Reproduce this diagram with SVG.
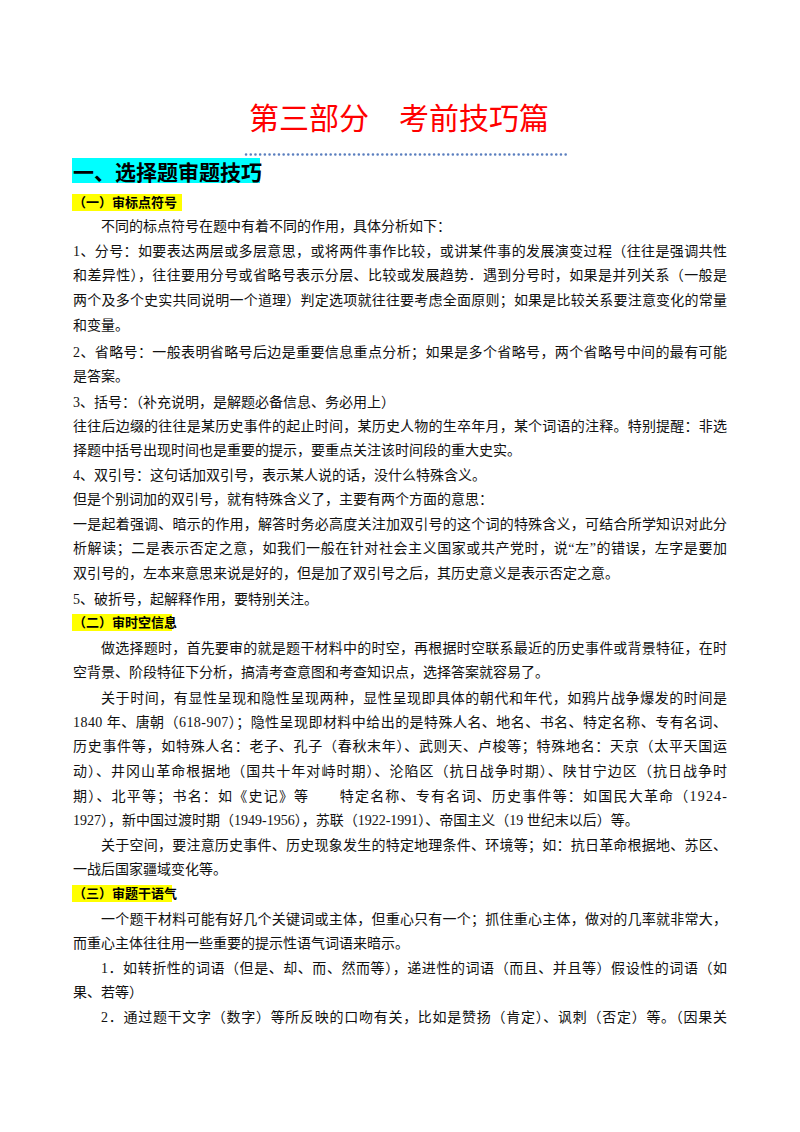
<svg xmlns="http://www.w3.org/2000/svg" width="800" height="1132" viewBox="0 0 800 1132">
<style>
.b{font-family:"Liberation Serif","Noto Sans CJK SC",serif;font-size:14px;fill:#111}
.h{font-family:"Noto Sans CJK SC",sans-serif;font-weight:bold;fill:#000}
</style>
<rect width="800" height="1132" fill="#fff"/>
<text x="399" y="129" text-anchor="middle" font-family="Noto Sans CJK SC,sans-serif" font-size="30" fill="#ff0000">第三部分　考前技巧篇</text>
<line x1="246" y1="154.5" x2="570" y2="154.5" stroke="#5b7fbf" stroke-width="2.5" stroke-dasharray="0.1 4.6" stroke-linecap="round"/>
<rect x="72" y="158" width="188" height="25" fill="#00ffff"/>
<text class="h" x="73" y="180" font-size="21">一、选择题审题技巧</text>
<rect x="72" y="194" width="110" height="17" fill="#ffff00"/>
<text class="h" x="73" y="207" font-size="13">（一）审标点符号</text>
<g class="b">
<text x="101" y="231">不同的标点符号在题中有着不同的作用，具体分析如下：</text>
<text x="73" y="256" textLength="654" lengthAdjust="spacing">1、分号：如要表达两层或多层意思，或将两件事作比较，或讲某件事的发展演变过程（往往是强调共性</text>
<text x="73" y="280" textLength="654" lengthAdjust="spacing">和差异性），往往要用分号或省略号表示分层、比较或发展趋势．遇到分号时，如果是并列关系（一般是</text>
<text x="73" y="305" textLength="654" lengthAdjust="spacing">两个及多个史实共同说明一个道理）判定选项就往往要考虑全面原则；如果是比较关系要注意变化的常量</text>
<text x="73" y="330">和变量。</text>
<text x="73" y="357" textLength="654" lengthAdjust="spacing">2、省略号：一般表明省略号后边是重要信息重点分析；如果是多个省略号，两个省略号中间的最有可能</text>
<text x="73" y="381">是答案。</text>
<text x="73" y="407">3、括号：（补充说明，是解题必备信息、务必用上）</text>
<text x="73" y="431" textLength="654" lengthAdjust="spacing">往往后边缀的往往是某历史事件的起止时间，某历史人物的生卒年月，某个词语的注释。特别提醒：非选</text>
<text x="73" y="455">择题中括号出现时间也是重要的提示，要重点关注该时间段的重大史实。</text>
<text x="73" y="480">4、双引号：这句话加双引号，表示某人说的话，没什么特殊含义。</text>
<text x="73" y="504">但是个别词加的双引号，就有特殊含义了，主要有两个方面的意思：</text>
<text x="73" y="529" textLength="654" lengthAdjust="spacing">一是起着强调、暗示的作用，解答时务必高度关注加双引号的这个词的特殊含义，可结合所学知识对此分</text>
<text x="73" y="553" textLength="654" lengthAdjust="spacing">析解读；二是表示否定之意，如我们一般在针对社会主义国家或共产党时，说“左”的错误，左字是要加</text>
<text x="73" y="578">双引号的，左本来意思来说是好的，但是加了双引号之后，其历史意义是表示否定之意。</text>
<text x="73" y="604">5、破折号，起解释作用，要特别关注。</text>
</g>
<rect x="72" y="614" width="100" height="17" fill="#ffff00"/>
<text class="h" x="73" y="627" font-size="13">（二）审时空信息</text>
<g class="b">
<text x="101" y="653" textLength="626" lengthAdjust="spacing">做选择题时，首先要审的就是题干材料中的时空，再根据时空联系最近的历史事件或背景特征，在时</text>
<text x="73" y="677">空背景、阶段特征下分析，搞清考查意图和考查知识点，选择答案就容易了。</text>
<text x="101" y="703" textLength="626" lengthAdjust="spacing">关于时间，有显性呈现和隐性呈现两种，显性呈现即具体的朝代和年代，如鸦片战争爆发的时间是</text>
<text x="73" y="727" textLength="654" lengthAdjust="spacing">1840 年、唐朝（618-907）；隐性呈现即材料中给出的是特殊人名、地名、书名、特定名称、专有名词、</text>
<text x="73" y="751" textLength="654" lengthAdjust="spacing">历史事件等，如特殊人名：老子、孔子（春秋末年）、武则天、卢梭等；特殊地名：天京（太平天国运</text>
<text x="73" y="776" textLength="654" lengthAdjust="spacing">动）、井冈山革命根据地（国共十年对峙时期）、沦陷区（抗日战争时期）、陕甘宁边区（抗日战争时</text>
<text x="73" y="801" textLength="654" lengthAdjust="spacing">期）、北平等；书名：如《史记》等　　特定名称、专有名词、历史事件等：如国民大革命（1924-</text>
<text x="73" y="825">1927），新中国过渡时期（1949-1956），苏联（1922-1991）、帝国主义（19 世纪末以后）等。</text>
<text x="101" y="850" textLength="626" lengthAdjust="spacing">关于空间，要注意历史事件、历史现象发生的特定地理条件、环境等；如：抗日革命根据地、苏区、</text>
<text x="73" y="874">一战后国家疆域变化等。</text>
</g>
<rect x="72" y="885" width="100" height="17" fill="#ffff00"/>
<text class="h" x="73" y="898" font-size="13">（三）审题干语气</text>
<g class="b">
<text x="101" y="924" textLength="626" lengthAdjust="spacing">一个题干材料可能有好几个关键词或主体，但重心只有一个；抓住重心主体，做对的几率就非常大，</text>
<text x="73" y="948">而重心主体往往用一些重要的提示性语气词语来暗示。</text>
<text x="101" y="973" textLength="626" lengthAdjust="spacing">1．如转折性的词语（但是、却、而、然而等），递进性的词语（而且、并且等）假设性的词语（如</text>
<text x="73" y="997">果、若等）</text>
<text x="101" y="1022" textLength="626" lengthAdjust="spacing">2．通过题干文字（数字）等所反映的口吻有关，比如是赞扬（肯定）、讽刺（否定）等。（因果关</text>
</g>
</svg>
